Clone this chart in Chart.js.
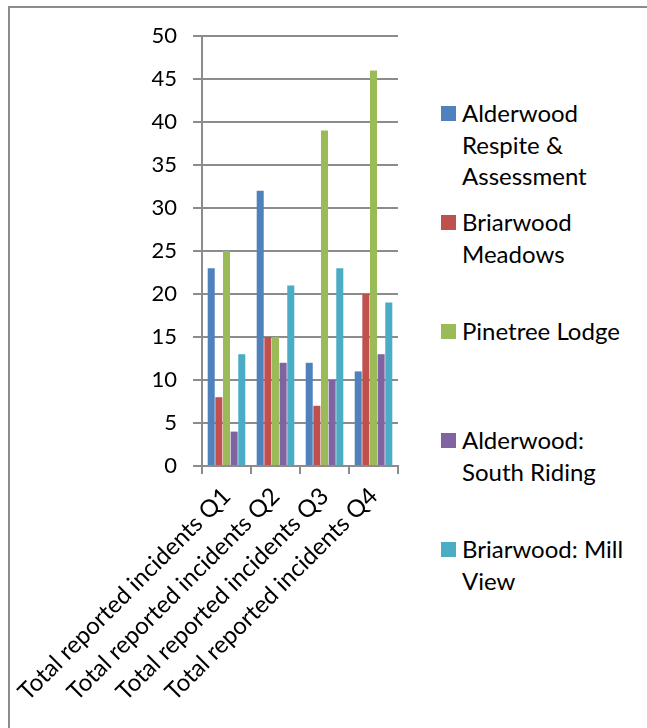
<!DOCTYPE html>
<html>
<head>
<meta charset="utf-8">
<script src="https://cdn.jsdelivr.net/npm/chart.js@4/dist/chart.umd.min.js"></script>
<style>
  html, body { margin: 0; padding: 0; background: #fff; }
  body { width: 647px; height: 728px; position: relative; overflow: hidden; font-family: Lato, "Open Sans", sans-serif; }
  #frame { position: absolute; left: 8px; top: 6px; width: 700px; height: 800px; border-top: 2px solid #8c8c8c; border-left: 2px solid #8c8c8c; }
  #wrap { position: absolute; left: 0; top: 0; width: 420px; height: 728px; }
  #legend { position: absolute; left: 441px; top: 97px; width: 196px; }
  .item { position: relative; height: 109px; padding-left: 21px; font-size: 24px; line-height: 31.5px; color: #000; }
  .item .sw { position: absolute; left: 0; top: 9px; width: 15px; height: 15px; }
</style>
</head>
<body>
<div id="frame"></div>
<div id="wrap"><canvas id="chart"></canvas></div>
<div id="legend"></div>
<script>
// Dữ liệu
const categories = ['Total reported incidents Q1', 'Total reported incidents Q2', 'Total reported incidents Q3', 'Total reported incidents Q4'];
const seriesNames = ['Alderwood Respite & Assessment', 'Briarwood Meadows', 'Pinetree Lodge', 'Alderwood: South Riding', 'Briarwood: Mill View'];
const alderwoodRespite = [23, 32, 12, 11];
const briarwoodMeadows = [8, 15, 7, 20];
const pinetreeLodge = [25, 15, 39, 46];
const alderwoodSouth = [4, 12, 10, 13];
const briarwoodMill = [13, 21, 23, 19];
const yTicks = [0, 5, 10, 15, 20, 25, 30, 35, 40, 45, 50];

const colors = ['#4F81BD', '#C0504D', '#9BBB59', '#8064A2', '#4BACC6'];
const seriesValues = [alderwoodRespite, briarwoodMeadows, pinetreeLodge, alderwoodSouth, briarwoodMill];

// Legend HTML (tự xuống dòng như bản gốc)
const legendEl = document.getElementById('legend');
seriesNames.forEach((name, i) => {
    const div = document.createElement('div');
    div.className = 'item';
    div.innerHTML = '<span class="sw" style="background:' + colors[i] + '"></span>';
    div.appendChild(document.createTextNode(name));
    legendEl.appendChild(div);
});

const gridColor = '#8c8c8c';
const ctx = document.getElementById('chart').getContext('2d');

new Chart(ctx, {
    type: 'bar',
    data: {
        labels: categories,
        datasets: seriesNames.map((name, i) => ({
            label: name,
            data: seriesValues[i],
            backgroundColor: colors[i],
            borderWidth: 0,
            categoryPercentage: 0.78,
            barPercentage: 0.92
        }))
    },
    options: {
        responsive: true,
        maintainAspectRatio: false,
        animation: false,
        layout: { padding: { top: 36, right: 22, left: 0, bottom: 0 } },
        plugins: {
            legend: { display: false },
            tooltip: { enabled: false }
        },
        scales: {
            x: {
                grid: {
                    display: true,
                    drawOnChartArea: false,
                    drawTicks: true,
                    tickLength: 8,
                    color: gridColor,
                    lineWidth: 2,
                    offset: true
                },
                border: { display: true, color: gridColor, width: 2 },
                ticks: {
                    minRotation: 45,
                    maxRotation: 45,
                    autoSkip: false,
                    color: '#000',
                    padding: 8,
                    font: { family: 'Lato', size: 24 }
                },
                afterFit: (scale) => {
                    scale.height = 728 - 466;
                    scale.paddingLeft = 0;
                    scale.paddingRight = 0;
                }
            },
            y: {
                min: 0,
                max: 50,
                afterBuildTicks: (scale) => { scale.ticks = yTicks.map(v => ({ value: v })); },
                grid: {
                    color: gridColor,
                    lineWidth: 2,
                    drawTicks: true,
                    tickLength: 9
                },
                border: { display: true, color: gridColor, width: 2 },
                ticks: {
                    color: '#000',
                    padding: 16,
                    font: { family: 'Lato', size: 22 }
                },
                afterFit: (scale) => { scale.width = 202; }
            }
        }
    }
});
</script>
</body>
</html>
